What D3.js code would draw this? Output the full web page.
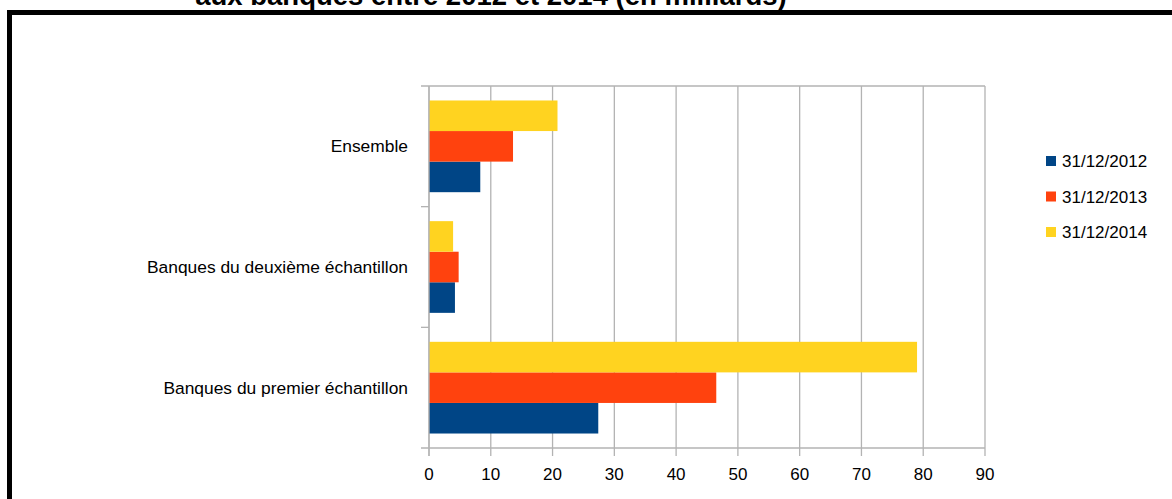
<!DOCTYPE html>
<html>
<head>
<meta charset="utf-8">
<script src="https://cdn.jsdelivr.net/npm/d3@7"></script>
<style>
  body { margin: 0; background: #fff; }
  svg { display: block; font-family: "Liberation Sans", Arial, sans-serif; }
</style>
</head>
<body>
<svg id="chart" width="1172" height="499"></svg>
<script>
// data
let categories = ["Ensemble", "Banques du deuxième échantillon", "Banques du premier échantillon"];
let seriesNames = ["31/12/2012", "31/12/2013", "31/12/2014"];
let values2012 = [8.3, 4.2, 27.4];
let values2013 = [13.6, 4.8, 46.5];
let values2014 = [20.8, 3.9, 79.0];
let xTicks = [0, 10, 20, 30, 40, 50, 60, 70, 80, 90];
let titleText = "aux banques entre 2012 et 2014 (en milliards)";

let colors = {"31/12/2012": "#004586", "31/12/2013": "#ff420e", "31/12/2014": "#ffd320"};
let seriesValues = {"31/12/2012": values2012, "31/12/2013": values2013, "31/12/2014": values2014};

let svg = d3.select("#chart");

// title, mostly cut off by the top of the picture
svg.append("text")
  .attr("x", 491)
  .attr("y", 5)
  .attr("text-anchor", "middle")
  .style("font-weight", "bold")
  .style("font-size", "27.5px")
  .text(titleText);

// black frame around the chart
svg.append("rect")
  .attr("x", 9.5)
  .attr("y", 12.5)
  .attr("width", 1200)
  .attr("height", 600)
  .attr("fill", "none")
  .attr("stroke", "#000")
  .attr("stroke-width", 5);

let plot = {left: 429, right: 985, top: 86, bottom: 448};

let x = d3.scaleLinear()
  .domain([0, 90])
  .range([plot.left, plot.right]);

let y = d3.scaleBand()
  .domain(categories)
  .range([plot.top, plot.bottom])
  .paddingInner(0.24)
  .paddingOuter(0.12);

// top to bottom inside each group: 2014, 2013, 2012
let ySub = d3.scaleBand()
  .domain(seriesNames.slice().reverse())
  .range([0, y.bandwidth()]);

let grid = svg.append("g").attr("class", "grid");

// vertical grid lines, which also make the x ticks
grid.selectAll("line.v")
  .data(xTicks)
  .enter()
  .append("line")
  .attr("class", "v")
  .attr("x1", d => x(d))
  .attr("x2", d => x(d))
  .attr("y1", plot.top)
  .attr("y2", plot.bottom + 8)
  .attr("stroke", "#b3b3b3")
  .attr("stroke-width", 1.3);

// category boundary ticks on the left
let boundaries = d3.range(categories.length + 1).map(i => plot.top + i * (plot.bottom - plot.top) / categories.length);
grid.selectAll("line.h")
  .data(boundaries)
  .enter()
  .append("line")
  .attr("class", "h")
  .attr("x1", plot.left - 8)
  .attr("x2", (d, i) => (i === 0 || i === boundaries.length - 1) ? plot.right : plot.left)
  .attr("y1", d => d)
  .attr("y2", d => d)
  .attr("stroke", "#b3b3b3")
  .attr("stroke-width", 1.3);

// bars
let groups = svg.append("g").attr("class", "bars")
  .selectAll("g")
  .data(categories)
  .enter()
  .append("g")
  .attr("transform", d => `translate(0,${y(d)})`);

groups.selectAll("rect")
  .data((cat, ci) => seriesNames.map(s => ({series: s, value: seriesValues[s][ci]})))
  .enter()
  .append("rect")
  .attr("x", x(0))
  .attr("y", d => ySub(d.series))
  .attr("width", d => x(d.value) - x(0))
  .attr("height", ySub.bandwidth())
  .attr("fill", d => colors[d.series]);

// axis line on the left drawn over bars
svg.append("line")
  .attr("x1", plot.left).attr("x2", plot.left)
  .attr("y1", plot.top).attr("y2", plot.bottom + 8)
  .attr("stroke", "#b3b3b3")
  .attr("stroke-width", 1.3);

// x tick labels
svg.append("g")
  .selectAll("text")
  .data(xTicks)
  .enter()
  .append("text")
  .attr("x", d => x(d))
  .attr("y", 480)
  .attr("text-anchor", "middle")
  .style("font-size", "17px")
  .attr("fill", "#000")
  .text(d => d);

// category labels
svg.append("g")
  .selectAll("text")
  .data(categories)
  .enter()
  .append("text")
  .attr("x", 408)
  .attr("y", d => y(d) + y.bandwidth() / 2 + 6)
  .attr("text-anchor", "end")
  .style("font-size", "17.4px")
  .attr("fill", "#000")
  .text(d => d);

// legend
let legend = svg.append("g")
  .selectAll("g")
  .data(seriesNames)
  .enter()
  .append("g")
  .attr("transform", (d, i) => `translate(1046,${161 + i * 35.5})`);

legend.append("rect")
  .attr("x", 0)
  .attr("y", -5)
  .attr("width", 10)
  .attr("height", 10)
  .attr("fill", d => colors[d]);

legend.append("text")
  .attr("x", 16)
  .attr("y", 6)
  .style("font-size", "17px")
  .attr("fill", "#000")
  .text(d => d);
</script>
</body>
</html>
